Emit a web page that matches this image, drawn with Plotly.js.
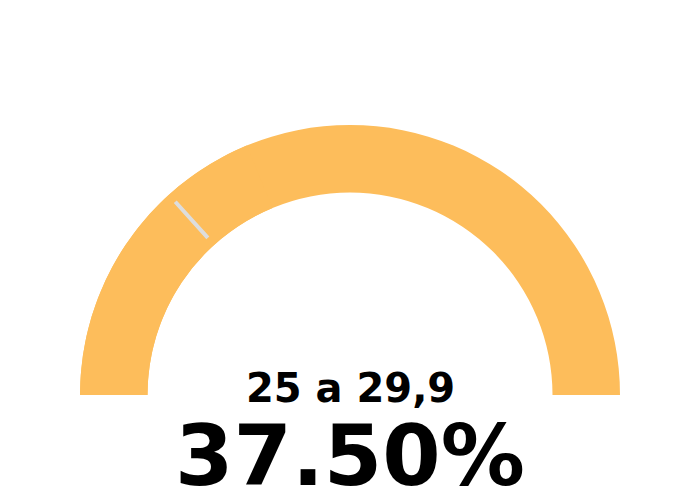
<!DOCTYPE html>
<html>
<head>
<meta charset="utf-8">
<script src="https://cdn.plot.ly/plotly-3.0.1.min.js"></script>
<style>
  html, body { margin: 0; padding: 0; background: #fff; }
  #gauge { width: 700px; height: 500px; }
</style>
</head>
<body>
<div id="gauge"></div>
<script>
// Share of the "25 a 29,9" band, shown as a full gauge with a reference marker.
const bandLabel = '25 a 29,9';
const shareValue = 37.5;
const gaugeRange = [0, 100];
const markerValue = 26.6;

const ORANGE = '#fdbd5b';
const MARKER = '#dddddd';
const FONT = 'DejaVu Sans, Verdana, sans-serif';

const traces = [
  {
    // the arc only
    type: 'indicator',
    mode: 'gauge',
    value: shareValue,
    gauge: {
      shape: 'angular',
      axis: { range: gaugeRange, visible: false },
      bar: { color: ORANGE, thickness: 1 },
      bgcolor: ORANGE,
      borderwidth: 0,
      threshold: { value: markerValue, thickness: 0.72, line: { color: MARKER, width: 4 } }
    },
    domain: { x: [0, 1], y: [0.2, 1] }
  },
  {
    // big number under the arc
    type: 'indicator',
    mode: 'number',
    value: shareValue,
    number: {
      suffix: '%',
      valueformat: '.2f',
      font: { family: FONT, size: 84, color: '#000', weight: 'bold' }
    },
    domain: { x: [0, 1], y: [0.025, 0.195] }
  }
];

const layout = {
  width: 700, height: 500,
  paper_bgcolor: '#fff',
  margin: { l: 80, r: 80, t: 100, b: 0 },
  font: { family: FONT },
  annotations: [{
    text: bandLabel,
    xref: 'paper', yref: 'paper',
    x: 0.5, y: 0.28, xanchor: 'center', yanchor: 'middle',
    showarrow: false,
    font: { family: FONT, size: 40, color: '#000', weight: 'bold' }
  }]
};

Plotly.newPlot('gauge', traces, layout, { displayModeBar: false, staticPlot: true });
</script>
</body>
</html>
